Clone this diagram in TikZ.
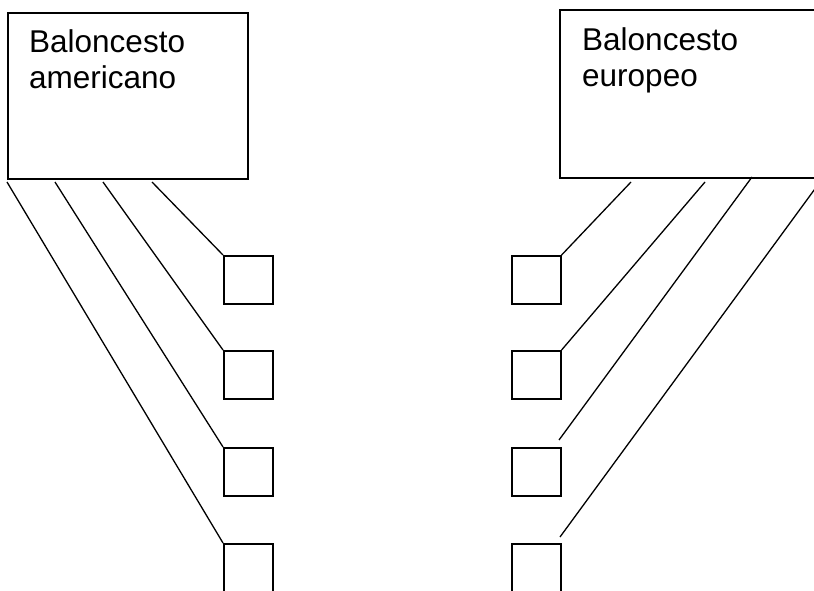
\documentclass[tikz,border=0pt]{standalone}
\usepackage{fontspec}
\setmainfont{Liberation Sans}
\begin{document}
\begin{tikzpicture}[x=1pt,y=-1pt,
  bigbox/.style={draw,line width=1.6pt,inner sep=0pt,anchor=north west},
  smallbox/.style={draw,line width=1.6pt,inner sep=0pt,anchor=north west,minimum width=49pt,minimum height=48pt},
  label/.style={inner sep=0pt,anchor=north west,align=left,font=\fontsize{31.5}{36}\selectfont},
  conn/.style={line width=1.3pt}]
\useasboundingbox (0,0) rectangle (814,591);
\clip (0,0) rectangle (814,591);
% big boxes
\node[bigbox,minimum width=240pt,minimum height=166pt] (amer) at (7,12) {};
\node[label] (amert) at (29,29.5) {Baloncesto\\americano};
\node[bigbox,minimum width=275pt,minimum height=168pt] (euro) at (559,9) {};
\node[label] (eurot) at (582,27.5) {Baloncesto\\europeo};
% small squares left
\node[smallbox] (l1) at (223,255) {};
\node[smallbox] (l2) at (223,350) {};
\node[smallbox] (l3) at (223,447) {};
\node[smallbox] (l4) at (223,543) {};
% small squares right
\node[smallbox] (r1) at (511,255) {};
\node[smallbox] (r2) at (511,350) {};
\node[smallbox] (r3) at (511,447) {};
\node[smallbox] (r4) at (511,543) {};
% connector start points
\coordinate (la) at (7,182);
\coordinate (lb) at (55,182);
\coordinate (lc) at (103,182);
\coordinate (ld) at (152,182);
\coordinate (ra) at (631,182);
\coordinate (rb) at (705,182);
\coordinate (rc) at (752,177);
\coordinate (rd) at (820,182);
\coordinate (r3e) at (559,440);
\coordinate (r4e) at (560,537);
% connectors
\draw[conn] (ld) -- (l1.north west);
\draw[conn] (lc) -- (l2.north west);
\draw[conn] (lb) -- (l3.north west);
\draw[conn] (la) -- (l4.north west);
\draw[conn] (ra) -- (r1.north east);
\draw[conn] (rb) -- (r2.north east);
\draw[conn] (rc) -- (r3e);
\draw[conn] (rd) -- (r4e);
\end{tikzpicture}
\end{document}
